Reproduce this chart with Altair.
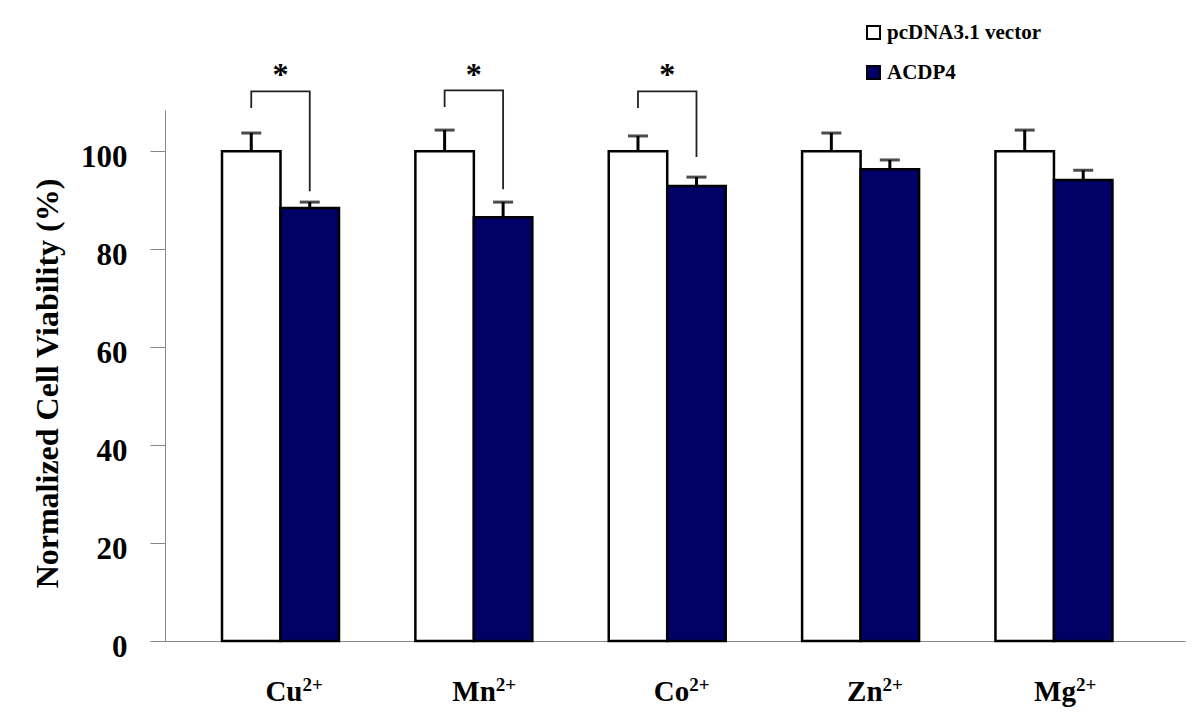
import altair as alt
import pandas as pd

FONT = "Liberation Serif"

ions = ["Cu", "Mn", "Co", "Zn", "Mg"]
ion_sup = ["2+", "2+", "2+", "2+", "2+"]
series = ["pcDNA3.1 vector", "ACDP4"]
vector_mean = [100, 100, 100, 100, 100]
vector_err = [3.7, 4.3, 3.1, 3.7, 4.3]
acdp4_mean = [88.4, 86.5, 92.9, 96.3, 94.1]
acdp4_err = [1.2, 3.1, 1.8, 1.9, 2.0]

sig_ions = ["Cu", "Mn", "Co"]
bracket_top = [112.2, 112.4, 112.2]
bracket_left_end = [108.8, 109.0, 108.8]
bracket_right_end = [91.8, 92.2, 98.8]
star_y = [115.5, 115.5, 115.5]

rows = []
for i, ion in enumerate(ions):
    rows.append({"ion": ion, "series": series[0], "mean": vector_mean[i],
                 "upper": vector_mean[i] + vector_err[i]})
    rows.append({"ion": ion, "series": series[1], "mean": acdp4_mean[i],
                 "upper": acdp4_mean[i] + acdp4_err[i]})
bars_df = pd.DataFrame(rows)

br = []
for i, ion in enumerate(sig_ions):
    br.append({"ion": ion, "series": series[0], "y": bracket_left_end[i], "seq": 0})
    br.append({"ion": ion, "series": series[0], "y": bracket_top[i], "seq": 1})
    br.append({"ion": ion, "series": series[1], "y": bracket_top[i], "seq": 2})
    br.append({"ion": ion, "series": series[1], "y": bracket_right_end[i], "seq": 3})
br_df = pd.DataFrame(br)

star_df = pd.DataFrame({"ion": sig_ions, "y": star_y})
lab_df = pd.DataFrame({"ion": ions, "sup": ion_sup})

H = 531
ydom = [0, 108.4]

xenc = alt.X("ion:N", sort=ions,
             scale=alt.Scale(domain=ions, paddingInner=0.395, paddingOuter=0.335, align=0.44),
             axis=alt.Axis(labels=False, ticks=False, title=None,
                           domainColor="#888888", domainWidth=1))
xoff = alt.XOffset("series:N", sort=series,
                   scale=alt.Scale(domain=series, paddingInner=0, paddingOuter=0))
yscale = alt.Scale(domain=ydom, nice=False, zero=True)

bars = alt.Chart(bars_df).mark_bar(stroke="black", strokeWidth=2.5).encode(
    x=xenc,
    xOffset=xoff,
    y=alt.Y("mean:Q", scale=yscale,
            axis=alt.Axis(values=[0, 20, 40, 60, 80, 100], tickSize=15,
                          tickColor="#888888", domainColor="#888888", grid=False,
                          labelFont=FONT, labelFontSize=31, labelFontWeight="bold",
                          labelColor="black", labelPadding=23, labelBaseline="middle",
                          labelOffset=6,
                          title="Normalized Cell Viability (%)", titleFont=FONT,
                          titleFontSize=32, titleFontWeight="bold", titleColor="black",
                          titleAngle=270, titleX=-108, titleY=273, titleAlign="center",
                          titleBaseline="alphabetic")),
    fill=alt.Fill("series:N", sort=series,
                  scale=alt.Scale(domain=series, range=["white", "#000066"]),
                  legend=alt.Legend(title=None, orient="none", legendX=698, legendY=-88,
                                    symbolType="square", symbolSize=169,
                                    symbolStrokeColor="black", symbolStrokeWidth=2,
                                    labelFont=FONT, labelFontSize=21,
                                    labelFontWeight="bold", labelColor="black",
                                    rowPadding=18, labelOffset=3)),
)

stems = alt.Chart(bars_df).mark_rule(color="black", strokeWidth=3).encode(
    x=xenc, xOffset=xoff, y=alt.Y("mean:Q", scale=yscale), y2="upper:Q")

caps = alt.Chart(bars_df).mark_tick(color="black", thickness=3, size=20,
                                    orient="horizontal").encode(
    x=xenc, xOffset=xoff, y=alt.Y("upper:Q", scale=yscale))

brackets = alt.Chart(br_df).mark_line(color="#222222", strokeWidth=1.8).encode(
    x=xenc, xOffset=xoff, y=alt.Y("y:Q", scale=yscale),
    detail="ion:N", order="seq:O")

stars = alt.Chart(star_df).mark_text(text="*", font=FONT, fontSize=32,
                                     fontWeight="bold", color="black",
                                     baseline="middle").encode(
    x=xenc, y=alt.Y("y:Q", scale=yscale))

base_lab = alt.Chart(lab_df).mark_text(font=FONT, fontSize=29, fontWeight="bold",
                                       color="black", align="right", dx=22,
                                       baseline="alphabetic").encode(
    x=xenc, y=alt.value(H + 60), text="ion:N")

sup_lab = alt.Chart(lab_df).mark_text(font=FONT, fontSize=19, fontWeight="bold",
                                      color="black", align="left", dx=22, dy=-10,
                                      baseline="alphabetic").encode(
    x=xenc, y=alt.value(H + 60), text="sup:N")

chart = alt.layer(bars, stems, caps, brackets, stars, base_lab, sup_lab).properties(
    width=1020, height=H,
    autosize=alt.AutoSizeParams(type="none"),
    padding={"left": 157, "top": 102, "right": 7, "bottom": 67},
).configure(background="white").configure_view(stroke=None, strokeWidth=0)

chart.save("out.html", embed_options={"renderer": "svg", "actions": False})
